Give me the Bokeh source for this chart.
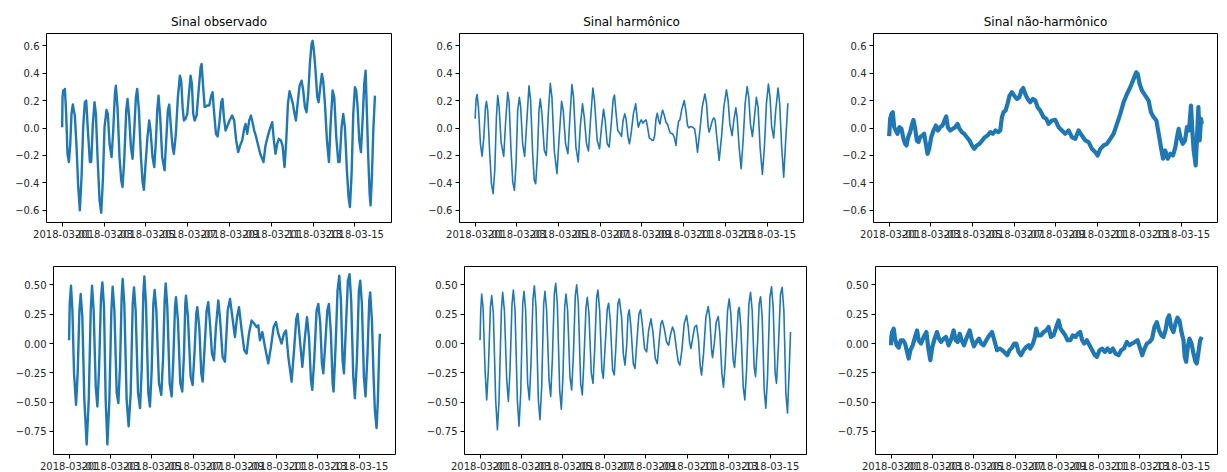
import pandas as pd
from bokeh.plotting import figure
from bokeh.layouts import column, row
from bokeh.models import FixedTicker, DatetimeTickFormatter, CustomJSTickFormatter, Range1d, ColumnDataSource
from bokeh.embed import file_html
from bokeh.resources import INLINE

# ---------------- data: (hours since 2018-03-01 00:00, value) ----------------
titles = ["Sinal observado", "Sinal harmônico", "Sinal não-harmônico"]

obs1 = [(0, 0.006), (0.4, 0.224), (1.1, 0.273), (2.3, 0.248), (3.1, 0.285), (4.6, 0.103), (6.1, -0.188),
        (7.7, -0.248), (9.2, -0.127), (10.7, 0.103), (12.2, 0.171), (13.4, 0.127), (14.5, 0.091),
        (16.5, -0.139), (18.4, -0.43), (20.3, -0.6), (22.2, -0.358), (24.1, 0.006), (26.0, 0.188),
        (27.6, 0.2), (29.5, -0.018), (31.8, -0.248), (33.3, -0.248), (35.2, 0.03), (37.1, 0.188),
        (38.7, 0.103), (40.6, -0.212), (42.9, -0.527), (44.8, -0.618), (46.7, -0.382), (48.6, 0.006),
        (50.9, 0.132), (52.4, 0.103), (54.4, -0.115), (56.7, -0.212), (58.6, -0.018), (60.5, 0.248),
        (61.6, 0.309), (63.5, 0.152), (65.8, -0.212), (67.8, -0.382), (69.3, -0.43), (71.2, -0.236),
        (73.5, 0.127), (75.0, 0.212), (76.9, 0.079), (78.9, -0.139), (80.8, -0.224), (82.7, -0.018),
        (84.6, 0.224), (86.1, 0.285), (88.1, 0.127), (90.4, -0.212), (92.3, -0.394), (93.8, -0.45),
        (95.7, -0.261), (97.9, -0.067), (99.9, 0.055), (101.4, -0.018), (103.7, -0.212), (105.7, -0.285),
        (107.6, -0.091), (109.1, 0.127), (110.6, 0.236), (112.5, 0.079), (114.8, -0.212), (117.5, -0.309),
        (119.4, -0.091), (121.3, 0.127), (122.9, 0.171), (124.8, 0.006), (126.7, -0.139), (128.2, -0.188),
        (130.5, -0.042), (132.8, 0.224), (135.1, 0.382), (136.6, 0.345), (138.2, 0.152), (139.7, 0.055),
        (141.6, 0.067), (143.6, 0.103), (145.5, 0.248), (147.4, 0.382), (148.9, 0.321), (150.4, 0.103),
        (152.0, 0.055), (154.3, 0.091), (156.6, 0.273), (158.9, 0.442), (160.0, 0.467), (161.6, 0.321),
        (163.5, 0.152), (166.5, 0.164), (168.8, 0.164), (171.1, 0.236), (172.6, 0.261), (174.5, 0.103),
        (176.5, -0.042), (178.4, -0.062), (180.3, 0.03), (182.6, 0.188), (184.0, 0.212), (185.6, 0.079),
        (187.5, -0.018), (189.8, 0.018), (192.1, 0.055), (195.1, 0.091), (197.4, 0.055), (199.7, -0.091),
        (202.0, -0.176), (204.3, -0.127), (206.6, -0.091), (208.9, -0.006), (210.5, 0.03), (212.4, -0.042),
        (214.7, 0.055), (216.6, 0.091), (218.5, 0.042), (220.4, -0.018), (222.7, -0.067), (225.0, -0.127),
        (227.3, -0.188), (229.6, -0.224), (231.1, -0.248), (233.4, -0.127), (235.7, -0.067), (238.4, -0.006),
        (241.1, 0.042), (243.0, -0.091), (244.9, -0.188), (246.8, -0.115), (248.7, -0.079), (251.0, -0.091),
        (252.9, -0.127), (255.2, -0.285), (257.2, -0.091), (259.1, 0.176), (261.0, 0.268), (262.9, 0.224),
        (264.8, 0.176), (266.7, 0.103), (268.3, 0.055), (270.2, 0.176), (272.5, 0.309), (274.8, 0.345),
        (276.7, 0.273), (278.6, 0.152), (280.5, 0.115), (282.4, 0.248), (284.3, 0.467), (286.2, 0.612),
        (287.4, 0.636), (288.9, 0.564), (290.8, 0.418), (292.8, 0.224), (294.3, 0.188), (296.2, 0.297),
        (298.1, 0.394), (299.6, 0.345), (301.6, 0.176), (303.9, -0.091), (306.2, -0.248), (308.1, 0.03),
        (310.4, 0.273), (312.3, 0.224), (314.6, -0.067), (316.9, -0.248), (318.4, -0.248), (320.7, 0.006),
        (322.6, 0.103), (324.5, 0.006), (326.8, -0.309), (328.7, -0.503), (330.3, -0.576), (332.2, -0.333),
        (334.1, 0.103), (336.0, 0.297), (337.5, 0.273), (339.1, 0.152), (341.0, -0.091), (342.9, -0.176),
        (344.8, 0.055), (346.7, 0.321), (348.3, 0.418), (349.8, 0.103), (351.3, -0.212), (352.9, -0.479),
        (354.0, -0.564), (355.5, -0.358), (357.1, -0.018), (359.0, 0.236)]

harm1 = [(0, 0.067), (1.1, 0.212), (2.3, 0.244), (3.8, 0.152), (6.1, -0.115), (8.0, -0.205),
         (10.0, -0.067), (11.9, 0.152), (13.0, 0.195), (14.5, 0.127), (16.8, -0.188), (18.8, -0.406),
         (20.7, -0.479), (22.6, -0.309), (24.5, 0.079), (26.0, 0.236), (27.6, 0.152), (29.9, -0.103),
         (32.9, -0.207), (35.2, 0.055), (37.5, 0.26), (39.1, 0.188), (41.3, -0.164), (43.3, -0.394),
         (45.2, -0.455), (47.1, -0.261), (49.0, 0.127), (50.9, 0.224), (52.4, 0.152), (54.7, -0.115),
         (57.0, -0.207), (59.3, 0.030), (62.0, 0.307), (63.9, 0.2), (66.2, -0.188), (68.1, -0.382),
         (69.7, -0.406), (71.6, -0.212), (73.5, 0.127), (75.0, 0.212), (76.9, 0.103), (79.6, -0.164),
         (81.9, -0.2), (84.2, 0.103), (86.5, 0.326), (88.4, 0.224), (91.1, -0.164), (94.2, -0.333),
         (96.5, -0.091), (99.5, 0.195), (101.4, 0.127), (104.1, -0.115), (106.8, -0.188), (109.1, 0.079),
         (111.4, 0.316), (113.3, 0.224), (116.0, -0.139), (118.7, -0.248), (121.0, 0.006), (123.6, 0.176),
         (125.6, 0.079), (128.2, -0.115), (130.5, -0.168), (132.8, 0.055), (135.5, 0.292), (137.4, 0.2),
         (140.5, -0.091), (143.2, -0.152), (145.5, 0.006), (147.8, 0.137), (149.7, 0.055), (152.0, -0.115),
         (154.3, -0.139), (157.0, 0.055), (158.9, 0.212), (160.4, 0.24), (162.3, 0.103), (164.2, -0.018),
         (166.9, -0.042), (168.5, -0.062), (170.3, 0.055), (172.2, 0.103), (173.7, 0.067), (176.0, -0.067),
         (177.6, -0.115), (179.5, -0.042), (182.2, 0.103), (184.8, 0.176), (186.8, 0.055), (187.9, 0.006),
         (189.8, 0.042), (191.3, 0.059), (192.9, 0.035), (194.8, 0.050), (196.7, 0.059), (198.2, 0.018),
         (200.5, -0.072), (203.2, -0.087), (205.1, -0.091), (206.7, -0.055), (208.2, 0.067), (209.7, 0.108),
         (211.2, 0.055), (212.8, 0.030), (214.3, 0.091), (215.8, 0.130), (217.8, 0.091), (219.7, 0.042),
         (221.6, 0.025), (223.5, -0.018), (225.0, -0.038), (227.3, -0.042), (229.2, -0.067), (231.2, -0.127),
         (232.7, -0.018), (234.2, 0.049), (235.7, 0.059), (238.0, 0.139), (240.7, 0.200), (242.6, 0.127),
         (244.5, 0.018), (246.1, 0.001), (248.0, 0.011), (250.3, 0.006), (252.6, -0.006), (254.1, -0.067),
         (256.0, -0.176), (258.7, -0.018), (261.4, 0.152), (264.5, 0.248), (266.4, 0.176), (268.3, 0.006),
         (269.4, -0.030), (271.0, 0.006), (273.3, 0.059), (274.8, 0.074), (276.3, 0.055), (278.6, -0.091),
         (280.9, -0.236), (283.6, -0.067), (286.3, 0.152), (289.3, 0.278), (291.2, 0.200), (293.2, 0.030),
         (295.8, -0.055), (297.8, 0.055), (300.1, 0.147), (301.6, 0.079), (303.9, -0.139), (306.2, -0.297),
         (308.5, -0.091), (310.8, 0.176), (313.1, 0.302), (315.0, 0.224), (316.9, 0.030), (319.2, -0.062),
         (321.5, 0.079), (323.8, 0.224), (325.7, 0.152), (328.0, -0.139), (330.7, -0.338), (333.0, -0.139),
         (335.3, 0.176), (337.6, 0.321), (339.5, 0.224), (341.4, 0.006), (343.7, -0.072), (346.0, 0.127),
         (348.7, 0.292), (350.6, 0.176), (352.9, -0.139), (355.2, -0.358), (357.5, -0.091), (360.0, 0.180)]

res1 = [(0, -0.06), (1.2, 0.067), (2.7, 0.103), (4.2, 0.115), (5.8, 0.006), (7.7, -0.018), (9.6, -0.042),
        (11.9, 0.006), (14.2, -0.006), (16.5, -0.079), (18.4, -0.115), (20.0, -0.127), (21.9, -0.067),
        (24.2, -0.03), (26.5, 0.03), (28.0, 0.059), (30.0, -0.006), (31.9, -0.091), (33.8, -0.103),
        (35.7, -0.067), (38.0, -0.055), (40.3, -0.042), (42.2, -0.115), (44.2, -0.188), (46.1, -0.152),
        (48.4, -0.067), (51.1, -0.018), (53.8, 0.018), (56.1, -0.018), (58.8, 0.006), (61.4, 0.018),
        (63.7, 0.055), (65.7, 0.084), (67.6, 0.006), (70.3, -0.018), (73.3, -0.006), (76.0, 0.006),
        (78.7, 0.03), (81.0, -0.006), (83.7, -0.03), (86.4, -0.042), (89.5, -0.067), (92.5, -0.091),
        (95.2, -0.127), (97.9, -0.152), (101.0, -0.127), (104.1, -0.115), (107.1, -0.091), (110.2, -0.067),
        (113.3, -0.055), (116.4, -0.03), (119.4, -0.042), (122.5, -0.018), (125.6, -0.03), (127.9, -0.018),
        (129.8, 0.079), (131.7, 0.115), (134.0, 0.127), (136.3, 0.176), (138.6, 0.236), (141.3, 0.261),
        (144.0, 0.236), (147.1, 0.212), (149.8, 0.224), (152.1, 0.273), (154.4, 0.291), (156.7, 0.248),
        (159.4, 0.212), (162.4, 0.188), (165.5, 0.212), (168.2, 0.2), (170.9, 0.152), (173.9, 0.127),
        (177.8, 0.079), (180.9, 0.067), (183.5, 0.03), (187.4, 0.055), (191.2, 0.059), (195.1, 0.006),
        (198.9, -0.018), (202.7, -0.042), (206.6, -0.018), (210.4, -0.067), (214.3, -0.079), (218.1, -0.018),
        (221.9, -0.055), (225.8, -0.091), (229.6, -0.103), (233.5, -0.152), (237.3, -0.176), (240.0, -0.2),
        (243.1, -0.152), (246.9, -0.127), (250.7, -0.115), (254.6, -0.079), (258.4, -0.042), (262.3, 0.03),
        (266.1, 0.103), (269.9, 0.188), (273.8, 0.248), (277.6, 0.297), (281.5, 0.358), (284.5, 0.406),
        (286.1, 0.394), (288.4, 0.321), (291.1, 0.273), (294.9, 0.236), (298.7, 0.2), (301.4, 0.115),
        (304.5, 0.079), (307.6, 0.055), (310.3, -0.042), (312.9, -0.139), (315.3, -0.224), (317.9, -0.164),
        (320.6, -0.224), (323.7, -0.188), (326.8, -0.2), (329.5, -0.139), (331.4, -0.067), (333.3, -0.006),
        (335.2, -0.067), (337.9, -0.115), (340.6, -0.091), (342.9, 0.006), (345.2, -0.018), (347.5, 0.164),
        (349.0, -0.018), (350.6, -0.164), (352.9, -0.273), (354.4, -0.067), (356.0, 0.152), (357.5, -0.091),
        (359.0, 0.067), (360.0, 0.03)]

obs2 = [(0, 0.028), (0.8, 0.338), (2.3, 0.494), (3.9, 0.282), (5.8, -0.255), (8.1, -0.524), (10.0, -0.255),
        (12.0, 0.282), (13.5, 0.423), (15.4, 0.225), (17.7, -0.481), (20.4, -0.863), (22.8, -0.481),
        (25.1, 0.282), (26.6, 0.494), (28.5, 0.282), (30.9, -0.368), (32.8, -0.538), (34.7, -0.227),
        (37.0, 0.395), (38.6, 0.522), (40.5, 0.31), (42.4, -0.481), (44.4, -0.863), (46.7, -0.481),
        (49.0, 0.282), (50.5, 0.486), (52.5, 0.282), (55.2, -0.424), (57.1, -0.509), (59.0, -0.199),
        (60.9, 0.395), (62.1, 0.551), (64.0, 0.338), (66.7, -0.481), (69.0, -0.707), (71.4, -0.424),
        (73.7, 0.338), (75.2, 0.48), (77.1, 0.282), (79.9, -0.424), (82.2, -0.552), (84.1, -0.227),
        (86.0, 0.423), (87.2, 0.573), (89.1, 0.338), (91.8, -0.424), (93.7, -0.538), (95.7, -0.227),
        (97.6, 0.338), (99.1, 0.457), (101.1, 0.282), (104.1, -0.34), (106.8, -0.439), (108.8, -0.142),
        (110.7, 0.367), (111.9, 0.514), (113.8, 0.31), (116.5, -0.34), (118.8, -0.452), (120.7, -0.142),
        (122.7, 0.31), (123.8, 0.395), (126.1, 0.197), (128.8, -0.34), (131.1, -0.41), (133.1, -0.086),
        (134.6, 0.338), (135.4, 0.409), (137.7, 0.225), (140.8, -0.283), (143.1, -0.354), (145.4, -0.057),
        (147.3, 0.254), (148.5, 0.31), (150.8, 0.141), (153.1, -0.255), (154.7, -0.325), (157.0, -0.029),
        (159.3, 0.282), (161.2, 0.353), (163.2, 0.169), (165.5, -0.086), (167.8, -0.142), (170.1, 0.141),
        (172.8, 0.367), (174.7, 0.225), (177.8, -0.114), (180.5, -0.156), (183.7, 0.282), (186.4, 0.381),
        (189.1, 0.225), (192.1, 0.056), (194.5, 0.225), (196.8, 0.31), (199.9, 0.112), (202.9, -0.057),
        (205.6, -0.086), (208.3, 0.084), (211.4, 0.197), (214.5, 0.169), (217.2, 0.141), (219.1, 0.155),
        (221.1, 0.028), (223.8, 0.098), (226.9, -0.029), (230.7, -0.17), (233.8, -0.029), (236.9, 0.141),
        (239.6, 0.183), (242.3, 0.084), (246.1, 0.0), (248.8, 0.084), (251.2, 0.112), (253.9, -0.114),
        (257.7, -0.326), (260.8, -0.029), (263.1, 0.211), (264.7, 0.254), (267.0, 0.056), (270.1, -0.199),
        (272.8, 0.028), (275.5, 0.225), (277.8, 0.056), (280.1, -0.311), (281.6, -0.396), (283.9, -0.142),
        (286.6, 0.282), (288.6, 0.338), (290.9, 0.169), (292.8, -0.17), (294.4, -0.255), (296.7, 0.0),
        (299.0, 0.282), (300.9, 0.338), (303.2, 0.084), (305.2, -0.34), (306.3, -0.41), (308.6, -0.029),
        (310.9, 0.452), (312.9, 0.579), (314.8, 0.367), (316.7, -0.142), (318.3, -0.255), (320.6, 0.141),
        (322.9, 0.537), (324.8, 0.593), (326.7, 0.367), (329.1, -0.283), (331.0, -0.467), (333.3, -0.142),
        (335.6, 0.452), (337.2, 0.537), (339.1, 0.338), (341.4, -0.283), (343.3, -0.452), (345.6, -0.086),
        (347.6, 0.367), (348.7, 0.437), (350.7, 0.197), (352.6, -0.283), (354.1, -0.566), (356.1, -0.722),
        (357.6, -0.481), (359.1, -0.057), (359.9, 0.084)]

harm2 = [(0, 0.028), (0.8, 0.28), (1.9, 0.423), (3.5, 0.31), (5.8, -0.227), (7.7, -0.481), (9.6, -0.227),
         (12.0, 0.31), (13.5, 0.409), (15.4, 0.254), (18.1, -0.481), (20.1, -0.736), (22.0, -0.481),
         (24.7, 0.282), (26.2, 0.438), (28.2, 0.282), (30.9, -0.311), (32.8, -0.495), (34.7, -0.227),
         (37.0, 0.338), (38.6, 0.457), (40.5, 0.282), (43.2, -0.481), (45.1, -0.707), (47.1, -0.424),
         (49.4, 0.338), (50.9, 0.446), (52.8, 0.282), (55.1, -0.34), (57.1, -0.481), (59.0, -0.170),
         (61.3, 0.381), (62.9, 0.494), (64.8, 0.31), (67.5, -0.481), (69.4, -0.651), (71.4, -0.368),
         (73.7, 0.338), (75.2, 0.446), (77.1, 0.282), (79.9, -0.311), (81.8, -0.453), (83.7, -0.142),
         (86.0, 0.423), (87.6, 0.514), (89.5, 0.338), (92.2, -0.396), (94.1, -0.561), (96.0, -0.283),
         (98.0, 0.31), (99.5, 0.423), (101.4, 0.282), (104.1, -0.283), (106.1, -0.396), (108.0, -0.114),
         (110.3, 0.409), (111.9, 0.502), (113.8, 0.338), (116.5, -0.34), (118.4, -0.439), (120.3, -0.142),
         (122.7, 0.31), (124.2, 0.395), (126.1, 0.254), (128.8, -0.255), (130.8, -0.34), (132.7, -0.057),
         (135.0, 0.395), (136.5, 0.457), (138.5, 0.282), (141.1, -0.227), (142.7, -0.297), (144.6, -0.057),
         (147.3, 0.296), (148.9, 0.344), (150.8, 0.197), (153.5, -0.227), (155.4, -0.269), (157.3, -0.029),
         (159.6, 0.338), (161.2, 0.381), (163.9, 0.225), (165.9, -0.086), (167.8, -0.185), (169.7, -0.029),
         (171.3, 0.24), (172.8, 0.288), (174.7, 0.141), (177.4, -0.170), (179.4, -0.213), (181.7, 0.028),
         (184.0, 0.254), (185.9, 0.288), (187.8, 0.169), (190.5, -0.043), (192.9, -0.071), (195.2, 0.112),
         (197.9, 0.211), (200.2, 0.098), (202.9, -0.128), (205.2, -0.170), (207.5, 0.028), (209.4, 0.169),
         (211.0, 0.197), (213.3, 0.127), (216.0, 0.013), (218.3, -0.015), (220.6, 0.078), (222.9, 0.141),
         (224.9, 0.098), (227.6, -0.057), (229.5, -0.156), (231.4, -0.185), (233.7, -0.057), (236.4, 0.169),
         (239.1, 0.24), (241.1, 0.141), (242.6, 0.013), (244.2, -0.043), (246.1, 0.042), (248.4, 0.141),
         (250.7, 0.155), (253.0, 0.028), (255.0, -0.199), (256.5, -0.269), (258.8, -0.086), (261.5, 0.225),
         (264.2, 0.316), (266.1, 0.211), (268.1, -0.057), (269.2, -0.12), (271.2, -0.001), (273.5, 0.183),
         (275.8, 0.231), (277.7, 0.084), (280.0, -0.255), (281.9, -0.374), (283.9, -0.170), (286.6, 0.282),
         (288.5, 0.381), (290.4, 0.254), (293.1, -0.142), (294.7, -0.205), (297.0, 0.028), (298.9, 0.282),
         (300.1, 0.31), (302.0, 0.141), (304.7, -0.368), (306.6, -0.481), (308.6, -0.227), (311.3, 0.338),
         (313.2, 0.438), (315.1, 0.282), (317.4, -0.199), (319.0, -0.283), (321.3, -0.001), (323.2, 0.338),
         (324.8, 0.4), (326.7, 0.225), (329.0, -0.396), (330.9, -0.552), (332.9, -0.283), (335.6, 0.395),
         (337.5, 0.485), (339.4, 0.31), (341.7, -0.255), (343.3, -0.34), (345.6, -0.001), (347.9, 0.423),
         (349.8, 0.48), (351.8, 0.282), (354.1, -0.424), (356.0, -0.594), (358.0, -0.227), (359.5, 0.098)]

res2 = [(0, -0.015), (0.3, 0.056), (1.2, 0.098), (3.1, 0.127), (4.6, 0.042), (6.6, -0.015), (8.9, -0.035),
        (11.2, 0.028), (13.9, 0.028), (16.2, 0.0), (18.1, -0.057), (20.4, -0.128), (22.4, -0.057),
        (25.1, -0.015), (27.8, 0.056), (30.1, 0.112), (32.0, 0.028), (34.7, 0.0), (37.8, 0.056),
        (40.9, 0.098), (43.2, -0.043), (45.5, -0.142), (47.8, -0.029), (50.5, 0.042), (53.2, 0.098),
        (55.5, 0.042), (57.9, 0.013), (60.9, 0.042), (63.6, 0.056), (66.7, -0.015), (69.8, 0.042),
        (72.5, 0.112), (74.8, 0.028), (77.1, 0.013), (79.5, 0.084), (81.8, 0.028), (84.5, -0.015),
        (87.2, 0.042), (91.0, 0.112), (93.7, 0.028), (96.0, -0.023), (98.7, 0.013), (101.8, 0.042),
        (104.5, 0.0), (107.2, -0.015), (110.3, 0.028), (113.8, 0.07), (116.9, 0.098), (119.6, 0.028),
        (122.7, -0.057), (125.7, -0.043), (128.8, -0.057), (131.9, -0.079), (134.6, -0.1), (137.3, -0.057),
        (140.0, -0.035), (142.7, 0.0), (145.0, 0.0), (147.7, -0.071), (150.4, -0.1), (153.5, -0.057),
        (156.6, -0.029), (159.3, -0.015), (161.2, -0.043), (164.3, 0.0), (166.6, 0.056), (168.1, 0.127),
        (170.4, 0.07), (173.5, 0.07), (176.6, 0.098), (179.7, 0.112), (182.4, 0.141), (185.1, 0.056),
        (188.2, 0.07), (191.3, 0.141), (194.0, 0.197), (196.3, 0.127), (199.0, 0.098), (201.7, 0.07),
        (204.4, 0.028), (207.5, 0.028), (210.5, 0.07), (213.6, 0.056), (216.3, 0.084), (219.0, 0.098),
        (221.3, 0.028), (223.7, 0.0), (226.7, 0.028), (229.8, -0.015), (232.9, -0.057), (236.0, -0.1),
        (238.3, -0.114), (241.4, -0.057), (244.5, -0.043), (247.6, -0.071), (250.7, -0.043), (253.7, -0.071),
        (256.8, -0.043), (259.9, -0.086), (263.4, -0.1), (266.5, -0.057), (269.6, -0.043), (273.0, 0.013),
        (276.1, -0.015), (279.2, 0.0), (282.3, 0.013), (285.4, 0.028), (288.5, -0.043), (290.8, -0.1),
        (293.5, -0.043), (296.2, 0.0), (299.3, 0.013), (302.3, 0.042), (305.0, 0.141), (307.7, 0.183),
        (310.4, 0.112), (313.1, 0.07), (315.5, 0.056), (317.8, 0.112), (320.1, 0.211), (322.0, 0.24),
        (324.3, 0.141), (327.0, 0.098), (329.3, 0.169), (331.6, 0.22), (334.0, 0.197), (336.3, 0.098),
        (338.6, 0.028), (340.1, -0.114), (341.7, -0.156), (343.6, -0.029), (345.5, 0.042), (347.9, 0.0),
        (350.2, -0.086), (352.5, -0.156), (354.0, -0.17), (356.0, -0.071), (357.9, 0.028), (359.8, 0.056)]

xtick_days = ["2018-03-01", "2018-03-03", "2018-03-05", "2018-03-07", "2018-03-09",
              "2018-03-11", "2018-03-13", "2018-03-15"]
yticks_top = [-0.6, -0.4, -0.2, 0.0, 0.2, 0.4, 0.6]
yticks_bottom = [-0.75, -0.5, -0.25, 0.0, 0.25, 0.5]

# ---------------- plotting ----------------
BASE = pd.Timestamp("2018-03-01")
COLOR = "#1f77b4"
FONT = "DejaVu Sans"


def to_src(pairs):
    hrs = [p[0] for p in pairs]
    vals = [p[1] for p in pairs]
    x = BASE + pd.to_timedelta(pd.Series(hrs, dtype=float), unit="h")
    return ColumnDataSource(dict(x=x, y=vals))


x_start = BASE - pd.Timedelta(hours=18)
x_end = BASE + pd.Timedelta(hours=378)
xticks_ms = [pd.Timestamp(d).timestamp() * 1000.0 for d in xtick_days]


def make(title, pairs, lw, yr, yticks, digits, bl, br, bt, bb, fw, fh):
    kw = {}
    if title:
        kw["title"] = title
    p = figure(x_axis_type="datetime", frame_width=fw, frame_height=fh,
               min_border_left=bl, min_border_right=br, min_border_top=bt, min_border_bottom=bb,
               toolbar_location=None, output_backend="svg",
               x_range=Range1d(x_start, x_end), y_range=Range1d(*yr), **kw)
    p.line("x", "y", source=to_src(pairs), line_width=lw, line_color=COLOR, line_join="round")
    p.grid.visible = False
    p.outline_line_color = "black"
    p.outline_line_width = 1
    p.outline_line_alpha = 1
    p.background_fill_color = "white"
    p.border_fill_color = "white"
    p.xaxis.ticker = FixedTicker(ticks=xticks_ms)
    p.xaxis.formatter = DatetimeTickFormatter(days="%Y-%m-%d", months="%Y-%m-%d", hours="%Y-%m-%d",
                                              years="%Y-%m-%d", context=None)
    p.yaxis.ticker = FixedTicker(ticks=yticks)
    p.yaxis.formatter = CustomJSTickFormatter(code="""
        if (Math.abs(tick) < 1e-9) { return (0).toFixed(%d); }
        return (tick < 0 ? '\\u2212' : '') + Math.abs(tick).toFixed(%d);
    """ % (digits, digits))
    for ax in (p.xaxis[0], p.yaxis[0]):
        ax.axis_line_color = None
        ax.major_tick_line_color = "black"
        ax.major_tick_line_width = 1
        ax.major_tick_out = 4
        ax.major_tick_in = 0
        ax.minor_tick_line_color = None
        ax.major_label_text_font = FONT
        ax.major_label_text_font_size = "10px"
        ax.major_label_text_color = "#262626"
        ax.major_label_standoff = 3
    if title:
        p.title.align = "center"
        p.title.text_font = FONT
        p.title.text_font_size = "12px"
        p.title.text_font_style = "normal"
        p.title.text_color = "black"
        p.title.standoff = 9
    return p


YT = (-0.689, 0.689)
YB = (-0.948, 0.658)

f1 = make(titles[0], obs1, 2.4, YT, yticks_top, 1, 46, 22, 33, 22, 345, 189)
f2 = make(titles[1], harm1, 1.6, YT, yticks_top, 1, 46, 24, 33, 22, 344, 189)
f3 = make(titles[2], res1, 4.2, YT, yticks_top, 1, 46, 10, 33, 22, 344, 189)

g1 = make(None, obs2, 2.4, YB, yticks_bottom, 2, 53, 16, 22, 17, 342, 188)
g2 = make(None, harm2, 1.6, YB, yticks_bottom, 2, 53, 16, 22, 17, 342, 188)
g3 = make(None, res2, 4.2, YB, yticks_bottom, 2, 53, 10, 22, 17, 342, 188)

layout = column(row(f1, f2, f3), row(g1, g2, g3))

open("out.html", "w").write(file_html(layout, INLINE))
